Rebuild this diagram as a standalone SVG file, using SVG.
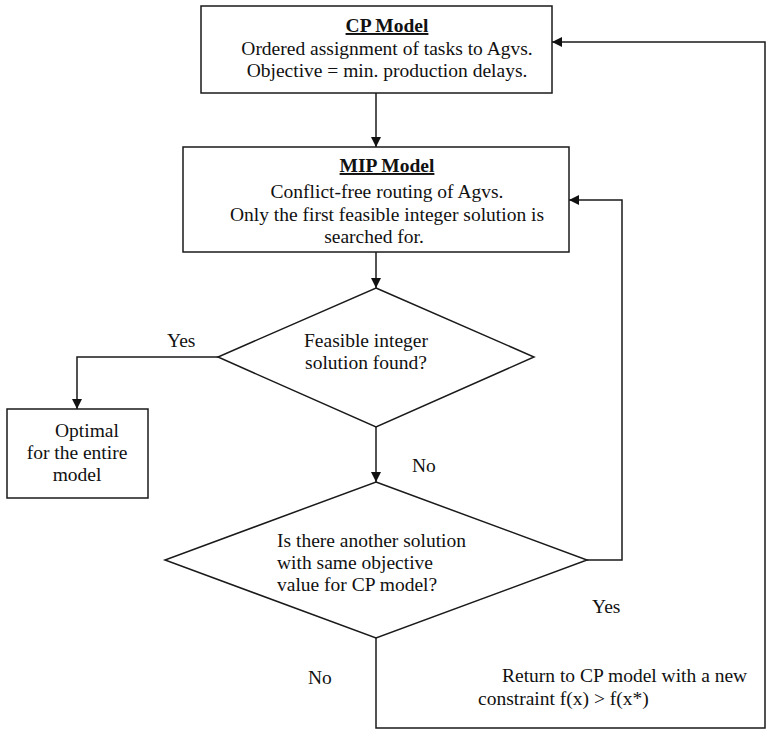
<svg xmlns="http://www.w3.org/2000/svg" width="767" height="733" viewBox="0 0 767 733">
<style>
.box{fill:#fff;stroke:#1a1a1a;stroke-width:1.5}
.ln{fill:none;stroke:#1a1a1a;stroke-width:1.5}
text{font-family:"Liberation Serif","Times New Roman",serif;font-size:19.5px;fill:#111}
.c{text-anchor:middle}
.b{font-weight:bold;text-decoration:underline}
</style>
<defs>
<marker id="ah" viewBox="0 0 10 10" refX="10" refY="5" markerWidth="10" markerHeight="10" markerUnits="userSpaceOnUse" orient="auto">
<path d="M0,0 L10,5 L0,10 z" fill="#111"/>
</marker>
</defs>
<rect width="767" height="733" fill="#fff"/>
<g id="connectors">
<path class="ln" d="M376,93 V147" marker-end="url(#ah)"/>
<path class="ln" d="M376,252 V288" marker-end="url(#ah)"/>
<path class="ln" d="M218,357 H77 V409" marker-end="url(#ah)"/>
<path class="ln" d="M376,427 V482" marker-end="url(#ah)"/>
<path class="ln" d="M587,560 H622 V200 H569" marker-end="url(#ah)"/>
<path class="ln" d="M376,638 V728 H765 V42 H552" marker-end="url(#ah)"/>
<text x="167" y="347">Yes</text>
<text x="412" y="472">No</text>
<text x="592" y="613">Yes</text>
<text x="308" y="684">No</text>
<text x="502" y="682">Return to CP model with a new</text>
<text x="478" y="705">constraint f(x) &gt; f(x*)</text>
</g>
<g id="cp">
<rect class="box" x="201" y="6" width="351" height="87"/>
<text class="c b" x="387" y="32">CP Model</text>
<text class="c" x="387" y="55">Ordered assignment of tasks to Agvs.</text>
<text class="c" x="387" y="77">Objective = min. production delays.</text>
</g>
<g id="mip">
<rect class="box" x="183" y="147" width="386" height="105"/>
<text class="c b" x="387" y="172">MIP Model</text>
<text class="c" x="387" y="198">Conflict-free routing of Agvs.</text>
<text class="c" x="387" y="221">Only the first feasible integer solution is</text>
<text class="c" x="374" y="243">searched for.</text>
</g>
<g id="d1">
<polygon class="box" points="376,288 534,357 376,427 218,357"/>
<text class="c" x="366" y="347">Feasible integer</text>
<text class="c" x="366" y="369">solution found?</text>
</g>
<g id="optimal">
<rect class="box" x="7" y="409" width="141" height="89"/>
<text class="c" x="87" y="437">Optimal</text>
<text class="c" x="77" y="459">for the entire</text>
<text class="c" x="77" y="481">model</text>
</g>
<g id="d2">
<polygon class="box" points="376,482 587,560 376,638 165,560"/>
<text x="277" y="547">Is there another solution</text>
<text x="277" y="569">with same objective</text>
<text x="277" y="591">value for CP model?</text>
</g>
</svg>
